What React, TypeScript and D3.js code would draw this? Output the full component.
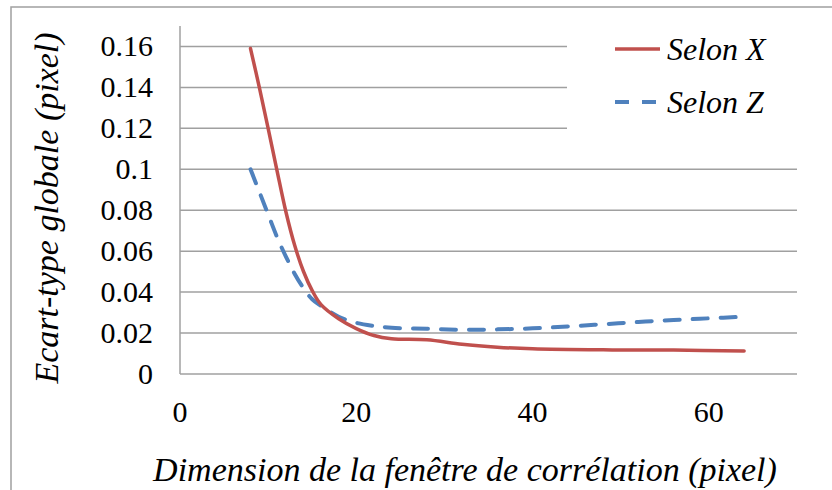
import React from "react";
import * as d3 from "d3";

const xTicks = [0, 20, 40, 60];
const yTicks = [0, 0.02, 0.04, 0.06, 0.08, 0.1, 0.12, 0.14, 0.16];

const xRedX = [8, 9, 10, 11, 12, 13, 14, 15, 16, 18, 20, 22, 24, 28, 32, 36, 40, 48, 56, 64];
const redValues = [0.159, 0.14, 0.12, 0.0995, 0.0795, 0.063, 0.0502, 0.0407, 0.0339, 0.027, 0.0222, 0.0188, 0.0172, 0.0167, 0.0145, 0.0131, 0.0123, 0.0118, 0.0117, 0.0112];

const xBlueX = [8, 10, 11, 12, 13, 14, 15, 16, 18, 20, 22, 24, 28, 32, 36, 40, 44, 48, 52, 56, 60, 64];
const blueValues = [0.1, 0.078, 0.067, 0.0575, 0.049, 0.042, 0.0365, 0.0333, 0.028, 0.025, 0.0235, 0.0226, 0.0221, 0.0216, 0.0218, 0.0223, 0.0232, 0.0243, 0.0254, 0.0264, 0.0272, 0.028];

const seriesNames = ["Selon X", "Selon Z"];

const W = 832;
const H = 490;
const serif = "'Liberation Serif', 'Noto Serif', 'DejaVu Serif', 'Times New Roman', serif";

export default function App() {
  const x = d3.scaleLinear().domain([0, 70]).range([180, 797]);
  const y = d3.scaleLinear().domain([0, 0.17]).range([374, 26]);

  const line = d3
    .line<[number, number]>()
    .x((d) => x(d[0]))
    .y((d) => y(d[1]))
    .curve(d3.curveCatmullRom.alpha(0.5));

  const redPts: [number, number][] = xRedX.map((v, i) => [v, redValues[i]]);
  const bluePts: [number, number][] = xBlueX.map((v, i) => [v, blueValues[i]]);

  const gridColor = "#A0A0A0";
  const txt = { fontFamily: serif } as React.CSSProperties;
  const itxt = { fontFamily: serif, fontStyle: "italic" } as React.CSSProperties;

  return (
    <svg width={W} height={H} style={{ position: "absolute", left: 0, top: 0 }}>
      <rect x={0} y={0} width={W} height={H} fill="#fff" />
      <rect x={11} y={7} width={900} height={600} fill="#fff" stroke={gridColor} strokeWidth={1.5} />
      {yTicks.map((t) => (
        <line key={t} x1={x(0)} x2={x(70)} y1={y(t)} y2={y(t)} stroke={gridColor} strokeWidth={1.5} />
      ))}
      <line x1={x(0)} x2={x(0)} y1={y(0.17)} y2={y(0)} stroke={gridColor} strokeWidth={1.5} />
      <rect x={567} y={20} width={240} height={130} fill="#fff" />
      {yTicks.map((t) => (
        <text key={t} x={153} y={y(t)} dy="0.33em" textAnchor="end" style={txt} fontSize={30} fill="#000">
          {String(t)}
        </text>
      ))}
      {xTicks.map((t) => (
        <text key={t} x={x(t)} y={422} textAnchor="middle" style={txt} fontSize={30} fill="#000">
          {String(t)}
        </text>
      ))}
      <path d={line(bluePts) || ""} fill="none" stroke="#4F81BD" strokeWidth={4} strokeDasharray="15 13" strokeLinecap="round" />
      <path d={line(redPts) || ""} fill="none" stroke="#C0504D" strokeWidth={3.5} strokeLinecap="round" />
      <line x1={615} x2={660} y1={49} y2={49} stroke="#C0504D" strokeWidth={3.5} />
      <text x={667} y={60} style={itxt} fontSize={32} fill="#000">
        {seriesNames[0]}
      </text>
      <line x1={615} x2={660} y1={102} y2={102} stroke="#4F81BD" strokeWidth={4} strokeDasharray="14 13" />
      <text x={667} y={113} style={itxt} fontSize={32} fill="#000">
        {seriesNames[1]}
      </text>
      <text x={465} y={481} textAnchor="middle" style={itxt} fontSize={34} fill="#000">
        Dimension de la fenêtre de corrélation (pixel)
      </text>
      <text transform={`translate(58, 208) rotate(-90)`} textAnchor="middle" style={itxt} fontSize={34} fill="#000">
        Ecart-type globale (pixel)
      </text>
    </svg>
  );
}
